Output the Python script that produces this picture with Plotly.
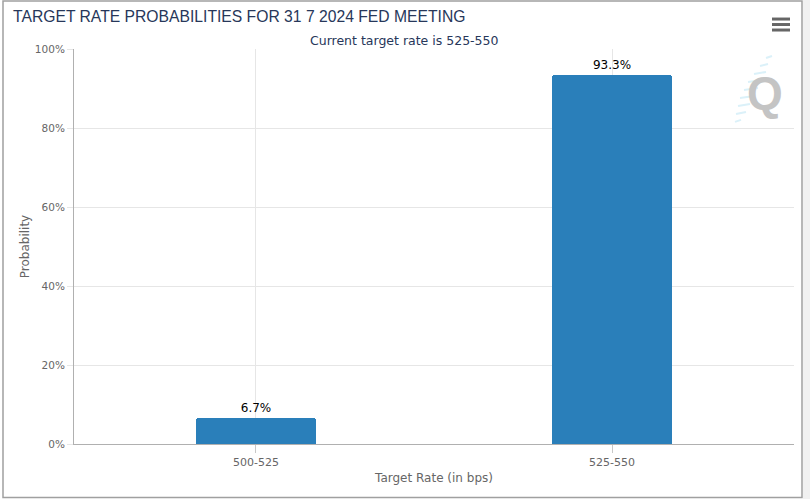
import plotly.graph_objects as go

categories = ["500-525", "525-550"]
probabilities = [6.7, 93.3]
y_tick_values = [0, 20, 40, 60, 80, 100]
y_tick_labels = ["0%", "20%", "40%", "60%", "80%", "100%"]
title_text = "TARGET RATE PROBABILITIES FOR 31 7 2024 FED MEETING"
subtitle_text = "Current target rate is 525-550"

W, H = 810, 499
L, R, T, B = 74, 794, 49, 444.5
FONT = "DejaVu Sans"
TITLE_FONT = "Liberation Sans"


def px(x):
    return (x - L) / (R - L)


def py(y):
    return (B - y) / (B - T)


fig = go.Figure()
fig.add_trace(go.Bar(
    x=[0, 1],
    y=probabilities,
    width=0.337,
    marker=dict(color="#2a7fba", line=dict(width=0), cornerradius=3),
    text=[f"{v:.1f}%" for v in probabilities],
    textposition="outside",
    textfont=dict(family=FONT, size=12, color="#000000"),
    cliponaxis=False,
    hoverinfo="skip",
))

shapes = []
# outer border
shapes.append(dict(type="rect", xref="paper", yref="paper",
                   x0=px(3), x1=px(802), y0=py(1), y1=py(498),
                   line=dict(color="#a0a0a0", width=1.5), fillcolor="rgba(0,0,0,0)", layer="below"))
shapes.append(dict(type="rect", xref="paper", yref="paper",
                   x0=px(803), x1=px(811), y0=py(-1), y1=py(500),
                   line=dict(width=0), fillcolor="#f1f1f1", layer="below"))
# menu icon
for yy in (19, 24.5, 30):
    shapes.append(dict(type="line", xref="paper", yref="paper",
                       x0=px(772), x1=px(790), y0=py(yy), y1=py(yy),
                       line=dict(color="#666666", width=3)))
# watermark streaks
streaks = [(766, 58, 6), (760, 66, 8), (754, 74, 12), (748, 82, 14), (744, 90, 14),
           (740, 98, 14), (738, 106, 12), (736, 114, 10), (735, 122, 6)]
for sx, sy, ln in streaks:
    shapes.append(dict(type="line", xref="paper", yref="paper",
                       x0=px(sx), x1=px(sx + ln), y0=py(sy), y1=py(sy - 2),
                       line=dict(color="#dbf1f9", width=2)))

annotations = [
    dict(text=subtitle_text, xref="paper", yref="paper", x=px(404), y=py(40),
         xanchor="center", yanchor="middle", showarrow=False,
         font=dict(family=FONT, size=12.5, color="#27375a")),
    dict(text="<b>Q</b>", xref="paper", yref="paper", x=px(765), y=py(93),
         xanchor="center", yanchor="middle", showarrow=False,
         font=dict(family=TITLE_FONT, size=46, color="#c4c4c4")),
]

fig.update_layout(
    width=W, height=H,
    margin=dict(l=L, r=W - R, t=T, b=H - B, pad=0),
    paper_bgcolor="#ffffff",
    plot_bgcolor="#ffffff",
    showlegend=False,
    title=dict(text=title_text, xref="container", yref="container",
               x=13 / W, y=1 - 17 / H, xanchor="left", yanchor="middle",
               font=dict(family=TITLE_FONT, size=15.7, color="#27375a")),
    font=dict(family=FONT, size=11, color="#666666"),
    xaxis=dict(
        range=[-0.511, 1.511],
        tickmode="array", tickvals=[0, 1], ticktext=categories,
        showgrid=True, gridcolor="#e6e6e6", gridwidth=1,
        showline=True, linecolor="#b0b0b0", linewidth=1,
        ticks="outside", ticklen=8, tickcolor="#c8c8c8",
        tickfont=dict(family=FONT, size=11, color="#666666"),
        title=dict(text="Target Rate (in bps)", standoff=5,
                   font=dict(family=FONT, size=12, color="#666666")),
        zeroline=False, fixedrange=True,
    ),
    yaxis=dict(
        range=[0, 100],
        tickmode="array", tickvals=y_tick_values, ticktext=y_tick_labels,
        showgrid=True, gridcolor="#e6e6e6", gridwidth=1,
        showline=True, linecolor="#b0b0b0", linewidth=1,
        ticks="outside", ticklen=6, tickcolor="#e6e6e6",
        tickfont=dict(family=FONT, size=10.5, color="#666666"),
        title=dict(text="Probability", standoff=2,
                   font=dict(family=FONT, size=12, color="#666666")),
        zeroline=False, fixedrange=True,
    ),
    shapes=shapes,
    annotations=annotations,
    bargap=0,
)

fig.write_html("out.html", config={"displayModeBar": False},
               post_script="document.body.style.margin='0px';document.body.style.overflow='hidden';")
